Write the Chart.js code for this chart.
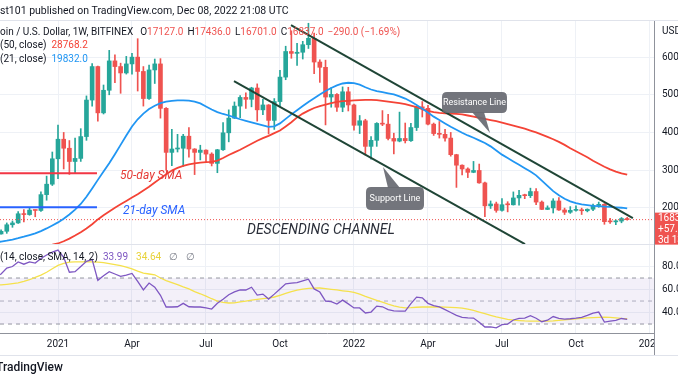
<!DOCTYPE html>
<html>
<head>
<meta charset="utf-8">
<script src="https://cdn.jsdelivr.net/npm/chart.js@4/dist/chart.umd.min.js"></script>
<style>
  html, body { margin:0; padding:0; background:#ffffff; width:678px; height:381px; overflow:hidden; }
  .panel { position:absolute; left:0; width:678px; }
  #wrapA { top:0; height:245px; }
  #wrapB { top:245px; height:136px; }
</style>
</head>
<body>
<div id="wrapA" class="panel"><canvas id="priceChart"></canvas></div>
<div id="wrapB" class="panel"><canvas id="rsiChart"></canvas></div>
<script>
// ---------- DATA (weekly candles, BTCUSD Bitfinex) ----------
const dates = [
  '2020-10-19','2020-10-26','2020-11-02','2020-11-09','2020-11-16','2020-11-23','2020-11-30','2020-12-07','2020-12-14','2020-12-21','2020-12-28',
  '2021-01-04','2021-01-11','2021-01-18','2021-01-25','2021-02-01','2021-02-08','2021-02-15','2021-02-22','2021-03-01','2021-03-08',
  '2021-03-15','2021-03-22','2021-03-29','2021-04-05','2021-04-12','2021-04-19','2021-04-26','2021-05-03','2021-05-10','2021-05-17',
  '2021-05-24','2021-05-31','2021-06-07','2021-06-14','2021-06-21','2021-06-28','2021-07-05','2021-07-12','2021-07-19','2021-07-26',
  '2021-08-02','2021-08-09','2021-08-16','2021-08-23','2021-08-30','2021-09-06','2021-09-13','2021-09-20','2021-09-27','2021-10-04',
  '2021-10-11','2021-10-18','2021-10-25','2021-11-01','2021-11-08','2021-11-15','2021-11-22','2021-11-29','2021-12-06','2021-12-13',
  '2021-12-20','2021-12-27',
  '2022-01-03','2022-01-10','2022-01-17','2022-01-24','2022-01-31','2022-02-07','2022-02-14','2022-02-21','2022-02-28','2022-03-07',
  '2022-03-14','2022-03-21','2022-03-28','2022-04-04','2022-04-11','2022-04-18','2022-04-25','2022-05-02','2022-05-09','2022-05-16',
  '2022-05-23','2022-05-30','2022-06-06','2022-06-13','2022-06-20','2022-06-27','2022-07-04','2022-07-11','2022-07-18','2022-07-25',
  '2022-08-01','2022-08-08','2022-08-15','2022-08-22','2022-08-29','2022-09-05','2022-09-12','2022-09-19','2022-09-26','2022-10-03',
  '2022-10-10','2022-10-17','2022-10-24','2022-10-31','2022-11-07','2022-11-14','2022-11-21','2022-11-28','2022-12-05'
];
const opens = [
  11500,13030,13740,15480,15960,18400,18180,19370,19270,23480,26250,
  33000,38200,35800,32280,33100,38900,48600,57500,45200,51200, 59000,57500,55800,58200,60000,56200,49000,56600,58200,46400,
  34700,35600,35800,39000,35600,34700,35300,34250,31780,35400, 39900,43800,47000,49300,48800,51800,46000,47300,43200,48200,
  54700,61500,61000,61300,63300,65000,58700,57300,49400,50100, 46700,50800,
  47300,41900,43100,36300,37900,42400,42200,38400,37700,38400, 37800,41300,46800,46400,42200,39700,39500,38500,34100,31300,
  30300,29400,29900,26600,20500,21000,19300,20800,20780,22600, 23300,23200,24300,21500,19550,19950,21800,19400,18800,19300,
  19400,19200,19600,20600,20900,16300,16250,16450,17127
];
const highs = [
  13350,14100,15960,16480,18950,19480,19900,19400,24200,28400,34800,
  41950,40000,37850,38500,41000,49700,58300,57600,52600,61800, 60600,58400,60200,61000,64900,57500,57900,59500,59600,46600,
  40800,39500,39500,41300,35700,36600,35400,34600,35500,42600, 46000,48100,49800,50500,52000,52900,48800,47400,49000,56500,
  62900,67000,63700,64200,69000,66400,59300,59200,51900,50300, 52100,52000,
  47500,44500,43500,38900,42600,45800,44800,39800,45400,42500, 42400,46900,48200,47200,42500,42900,40800,40000,34200,31400,
  30600,32300,31600,26800,21800,21500,22400,21600,24200,24600, 23600,25200,25100,21800,20500,22400,22700,19900,20300,20500,
  19900,19700,21000,21500,21100,17200,16800,17400,17436
];
const lows = [
  11400,12950,13200,14800,15800,16200,18000,17600,19000,22000,25900,
  27700,30300,28850,29200,32300,37900,47000,43000,44900,50000, 53200,50400,55500,55500,51000,47000,48800,53000,43800,30000,
  31200,34800,31000,33400,28800,32700,32100,31100,29300,35200, 37500,43700,43900,46400,46800,43000,44700,39600,40800,47000,
  54000,59700,57800,59500,62300,55600,53300,42000,46700,45600, 45500,45700,
  40600,39700,34000,32900,36300,41800,38000,34300,37500,37200, 37600,40500,44100,42000,39200,38500,37700,33700,25400,28700,
  28000,29300,26500,17600,19800,18800,19100,18900,20700,20700, 22400,22700,20800,19500,19500,18600,19300,18200,18500,19100,
  18200,18900,19200,20100,15600,15800,15500,16000,16701
];
const closes = [
  13030,13740,15480,15960,18400,18180,19370,19270,23480,26250,33000,
  38200,35800,32280,33100,38900,48600,57500,45200,51200,59000, 57500,55800,58200,60000,56200,49000,56600,58200,46400,34700,
  35600,35800,39000,35600,34700,35300,34250,31780,35400,39900, 43800,47000,49300,48800,51800,46000,47300,43200,48200,54700,
  61500,61000,61300,63300,65000,58700,57300,49400,50100,46700, 50800,47300,
  41900,43100,36300,37900,42400,42200,38400,37700,38400,37800, 41300,46800,46400,42200,39700,39500,38500,34100,31300,30300,
  29400,29900,26600,20500,21000,19300,20800,20780,22600,23300, 23200,24300,21500,19550,19950,21800,19400,18800,19300,19400,
  19200,19600,20600,20900,16300,16250,16450,17127,16837
];
const ma21 = [
  10800,11000,11250,11550,11900,12300,12750,13200,13800,14500,15300,
  16100,17100,18200,19500,21000,22900,25100,27400,29600,31800, 34200,36700,39200,41600,43500,45000,46200,47100,47800,48200,
  48400,48500,48500,48450,48200,47700,46900,46100,45400,44900, 44500,44000,43500,43100,42700,42300,41900,41500,41600,42400,
  43600,44800,45900,47000,48100,49100,50100,51000,51800,52500, 53000,53200,
  53100,52700,52000,51400,51000,50700,50400,50100,49600,49000, 48200,47300,46300,45300,44200,43300,42400,41500,40700,39900,
  39200,38600,37900,37200,36300,35200,34100,33200,32300,31400, 30500,29600,28600,27200,25800,24400,23300,22400,21700,21200,
  20900,20700,20500,20400,20300,20200,20100,20000,19832.0
];
const ma50 = [
  8800,8950,9100,9250,9400,9550,9700,9850,9950,10050,10200,
  10500,11100,11800,12600,13500,14500,15600,16900,18000,19000, 20000,20900,21800,22700,23600,24600,25600,26700,27800,28900,
  29900,30600,31100,31500,31800,32000,32100,32200,32500,33200, 34000,34700,35400,36200,37000,37800,38500,39100,39800,40500,
  41600,42700,44000,45000,45800,46500,47000,47400,47800,48100, 48300,48400,
  48500,48600,48650,48650,48600,48400,48200,48000,47800,47500, 47100,46700,46200,45700,45400,45200,45100,45000,44950,44800,
  44500,44200,43900,43600,43300,43000,42600,42200,41800,41400, 41000,40500,40000,39400,38800,38200,37500,36700,35800,35000,
  34200,33400,32500,31700,30900,30200,29600,29100,28768.2
];
const rsi = [
  71,73.5,78.7,80,84,82,84,83,87,90,92.5,
  94.3,88,75,75.5,80,84.5,86,68,72,75.5, 73.5,71.5,72.5,74,67,59.6,65.6,62,55,44.8,
  44.8,45,48,45,44.8,44.8,44,43,48,51.5, 55.5,58,59.6,59.6,62,55.2,56,51.7,56,60.5,
  65,65.6,66,67.5,69,60.5,57.8,50,49.5,47.4, 50.8,47.5,
  44,44,39.6,40.4,45.6,45,42.5,41.5,41.3,41.3, 47.8,53.4,52.8,48,46,44.9,42.5,40,37.5,35.8,
  35.3,35.2,31.5,27.4,27.5,26.7,29.5,30,33.5,35, 35.2,37.2,35,32,33.3,36.5,35,34.3,34.6,35.1,
  35.8,37.5,39.5,40.4,31.7,32.6,33.2,34.8,33.99
];
const rsiSma = [
  63.8,64,64.5,65.1,65.8,67,68.5,70.5,72.5,75,78,
  81,82.8,83.8,84,84,84,84,83.8,83.3,82.5, 81.7,80.8,79.5,78,76,74.3,73.5,72.8,70,67.8,
  66,64.2,62.3,60.6,58.2,56.3,54.2,52,50,48.8, 48.3,48.4,49.2,50,50.8,51.4,52,52.5,53.5,55,
  56.6,58.2,59.4,60.4,61,61.2,61.3,60.8,60.2,59.6, 58.9,58.3,
  57.6,56,54,52.3,50.6,49,47.3,45.8,44.6,44, 44.2,44.6,44.8,44.8,44.8,44.8,44.7,44.5,44.2,43.9,
  43,41.8,40.4,39,37.6,36.2,35.2,34,33.4,33, 32.7,32.6,32.6,32.6,32.6,32.8,33.2,33.6,34,34.5,
  35,35.4,35.6,35.8,36,35.8,35.3,34.9,34.64
];
const timeTickDates  = ['2021-01-04','2021-04-05','2021-07-05','2021-10-04','2022-01-03','2022-04-04','2022-07-04','2022-10-03','2023-01-02'];
const timeTickLabels = ['2021','Apr','Jul','Oct','2022','Apr','Jul','Oct','2023'];
const priceTicks = [20000,30000,40000,50000,60000];
const rsiTicks = [40,60,80];
const rsiLevels = [70,50,30];
// author's drawings, in (week index from 2021-01-04, price)
const channelUpper = [[40.93,68530],[101.0,17265]];
const channelLower = [[30.92,53650],[82.05,10360]];
const smaMark50 = [[-11,29150],[6.85,29150]];
const smaMark21 = [[-11,20100],[6.85,20100]];

// ---------- helpers ----------
const BASE = Date.parse('2021-01-04');
const wk = d => (Date.parse(d) - BASE) / 604800000;
const xs = dates.map(wk);
const timeTickX = timeTickDates.map(wk);
const X_MIN = -10.19, X_MAX = 104.71;
const UP = '#26a69a', DOWN = '#ef5350';
const candleColors = closes.map((c,k) => c >= opens[k] ? UP : DOWN);
const pts = arr => arr.map((v,k) => ({x: xs[k], y: v}));
const seg = arr => arr.map(p => ({x: p[0], y: p[1]}));
const level = v => [{x: X_MIN, y: v}, {x: X_MAX, y: v}];
const FONT = 'Roboto, "Noto Sans", sans-serif';
const DARK = '#131722', AXIS = '#8f929b', GRID = '#eef1f6', SEP = '#e0e3eb';
const n = closes.length - 1;

Chart.defaults.font.family = FONT;
Chart.defaults.font.size = 10;
Chart.defaults.color = DARK;

function seq(ctx, x, y, parts) {
  for (const p of parts) { ctx.fillStyle = p[1]; ctx.fillText(p[0], x, y); x += ctx.measureText(p[0]).width + (p[2] || 0); }
}
function rr(ctx, x, y, w, h, r) {
  ctx.beginPath(); ctx.moveTo(x + r, y); ctx.lineTo(x + w - r, y); ctx.quadraticCurveTo(x + w, y, x + w, y + r);
  ctx.lineTo(x + w, y + h - r); ctx.quadraticCurveTo(x + w, y + h, x + w - r, y + h); ctx.lineTo(x + r, y + h);
  ctx.quadraticCurveTo(x, y + h, x, y + h - r); ctx.lineTo(x, y + r); ctx.quadraticCurveTo(x, y, x + r, y); ctx.closePath();
}
const callouts = [
  {text: 'Resistance Line', box: [67.46, 50730, 78.88, 45150], tip: [75.9, 39840], base: [72.73, 74.84]},
  {text: 'Support Line',    box: [54.11, 25500, 64.30, 19390], tip: [57.1, 30810], base: [57.98, 60.08]}
];
const notes = [
  {text: '50-day SMA', at: [10.9, 28400], color: '#e53935', font: 'italic 12px '},
  {text: '21-day SMA', at: [11.4, 19100], color: '#2962ff', font: 'italic 12px '},
  {text: 'DESCENDING CHANNEL', at: [33.2, 14080], color: '#2a2e39', font: 'italic 14px '}
];
const fmt = v => v.toFixed(1);
const minus = s => s.replace('-', '\u2212');
const vAxisFit = s => { s.width = 24; s.paddingTop = 0; s.paddingBottom = 0; };

const overlayA = {
  id: 'overlayA',
  afterDraw(chart) {
    const {ctx, scales: {x, y}} = chart;
    const W = chart.width;
    ctx.save();
    ctx.strokeStyle = SEP; ctx.lineWidth = 1;
    ctx.beginPath(); ctx.moveTo(0, 20.5); ctx.lineTo(W, 20.5); ctx.stroke();
    ctx.beginPath(); ctx.moveTo(0, 244.5); ctx.lineTo(654, 244.5); ctx.stroke();
    ctx.textBaseline = 'middle'; ctx.textAlign = 'left';
    for (const a of notes) {
      ctx.font = a.font + FONT; ctx.fillStyle = a.color;
      ctx.fillText(a.text, x.getPixelForValue(a.at[0]), y.getPixelForValue(a.at[1]));
    }
    for (const c of callouts) {
      const bx0 = x.getPixelForValue(c.box[0]), by0 = y.getPixelForValue(c.box[1]);
      const bx1 = x.getPixelForValue(c.box[2]), by1 = y.getPixelForValue(c.box[3]);
      const tx = x.getPixelForValue(c.tip[0]), ty = y.getPixelForValue(c.tip[1]);
      const baseY = ty > by1 ? by1 - 1 : by0 + 1;
      ctx.fillStyle = 'rgba(104,106,114,0.93)';
      rr(ctx, bx0, by0, bx1 - bx0, by1 - by0, 5); ctx.fill();
      ctx.beginPath(); ctx.moveTo(x.getPixelForValue(c.base[0]), baseY); ctx.lineTo(tx, ty);
      ctx.lineTo(x.getPixelForValue(c.base[1]), baseY); ctx.closePath(); ctx.fill();
      ctx.fillStyle = '#ffffff'; ctx.font = '9px ' + FONT; ctx.textAlign = 'center';
      ctx.fillText(c.text, (bx0 + bx1) / 2, (by0 + by1) / 2 + 0.5);
      ctx.textAlign = 'left';
    }
    ctx.font = '10.5px ' + FONT; ctx.fillStyle = DARK;
    ctx.fillText('st101 published on TradingView.com, Dec 08, 2022 21:08 UTC', 0, 11);
    ctx.font = '10px ' + FONT;
    const chg = closes[n] - closes[n - 1];
    const pct = chg / closes[n - 1] * 100;
    seq(ctx, -ctx.measureText('Bitc').width, 32.5, [
      ['Bitcoin / U.S. Dollar, 1W, BITFINEX', DARK, 7],
      ['O', DARK], [fmt(opens[n]), DOWN, 4], ['H', DARK], [fmt(highs[n]), DOWN, 4],
      ['L', DARK], [fmt(lows[n]), DOWN, 4], ['C', DARK], [fmt(closes[n]), DOWN, 4],
      [minus(fmt(chg)) + ' (' + minus(pct.toFixed(2)) + '%)', DOWN]
    ]);
    seq(ctx, -ctx.measureText('MA ').width, 45.5, [['MA (50, close)', DARK, 5], [fmt(ma50[n]), '#f44336']]);
    seq(ctx, -ctx.measureText('MA ').width, 59, [['MA (21, close)', DARK, 5], [fmt(ma21[n]), '#2196f3']]);
    ctx.fillStyle = DARK; ctx.fillText('USD', 662, 31);
    const py = y.getPixelForValue(closes[n]);
    ctx.fillStyle = '#ef5350'; ctx.fillRect(655, py - 7, 23, 32);
    ctx.fillStyle = '#ffffff';
    ctx.fillText(fmt(closes[n]), 658, py - 1);
    ctx.fillText('+57.0', 658, py + 10);
    ctx.fillText('3d 13h', 658, py + 21);
    ctx.restore();
  }
};

new Chart(document.getElementById('priceChart'), {
  type: 'bar',
  data: { datasets: [
    {type: 'line', data: seg(channelUpper), borderColor: '#1f4536', borderWidth: 2, pointRadius: 0},
    {type: 'line', data: seg(channelLower), borderColor: '#1f4536', borderWidth: 2, pointRadius: 0},
    {type: 'line', data: seg(smaMark50), borderColor: '#f23645', borderWidth: 2, pointRadius: 0},
    {type: 'line', data: seg(smaMark21), borderColor: '#2962ff', borderWidth: 2, pointRadius: 0},
    {type: 'line', data: pts(ma21), borderColor: '#2196f3', borderWidth: 1.8, pointRadius: 0},
    {type: 'line', data: pts(ma50), borderColor: '#f44336', borderWidth: 1.8, pointRadius: 0},
    {type: 'line', data: level(closes[n]), borderColor: '#ef5350', borderWidth: 1, borderDash: [1, 2], pointRadius: 0},
    {type: 'bar', data: xs.map((xv, k) => ({x: xv, y: [opens[k], closes[k]]})), backgroundColor: candleColors,
      barThickness: 4, grouped: false, minBarLength: 1, borderWidth: 0},
    {type: 'bar', data: xs.map((xv, k) => ({x: xv, y: [lows[k], highs[k]]})), backgroundColor: candleColors,
      barThickness: 1, grouped: false, borderWidth: 0}
  ]},
  options: {
    responsive: true, maintainAspectRatio: false, devicePixelRatio: 1, animation: false, events: [],
    layout: {padding: {top: 21, left: 0, right: 0, bottom: 0}},
    plugins: {legend: {display: false}, tooltip: {enabled: false}},
    scales: {
      x: {type: 'linear', min: X_MIN, max: X_MAX, offset: false, position: 'bottom',
        afterBuildTicks: s => { s.ticks = timeTickX.map(v => ({value: v})); },
        afterFit: s => { s.height = 0; s.paddingLeft = 0; s.paddingRight = 0; },
        ticks: {display: false}, grid: {color: GRID, drawTicks: false, offset: false}, border: {display: false}},
      y: {type: 'linear', position: 'right', min: 10100, max: 69600,
        afterBuildTicks: s => { s.ticks = priceTicks.map(v => ({value: v})); },
        afterFit: vAxisFit,
        ticks: {padding: 8, color: DARK, autoSkip: false, callback: v => String(v)},
        grid: {color: GRID, drawTicks: false}, border: {display: true, color: AXIS}}
    }
  },
  plugins: [overlayA]
});

const overlayB = {
  id: 'overlayB',
  afterDraw(chart) {
    const ctx = chart.ctx; const W = chart.width; const ys = chart.scales.y;
    ctx.save();
    ctx.fillStyle = '#ffffff'; ctx.fillRect(655, 89, W - 655, 21);
    ctx.strokeStyle = AXIS; ctx.lineWidth = 1;
    ctx.beginPath(); ctx.moveTo(654.5, 88); ctx.lineTo(654.5, 110); ctx.stroke();
    ctx.strokeStyle = SEP;
    ctx.beginPath(); ctx.moveTo(0, 110.5); ctx.lineTo(W, 110.5); ctx.stroke();
    ctx.textBaseline = 'middle'; ctx.textAlign = 'left';
    ctx.font = '10px ' + FONT;
    ctx.fillStyle = DARK;
    for (const v of rsiTicks) ctx.fillText(v.toFixed(1), 662, ys.getPixelForValue(v));
    seq(ctx, -ctx.measureText('RSI ').width, 12, [
      ['RSI (14, close, SMA, 14, 2)', DARK, 5], [rsi[n].toFixed(2), '#7e57c2', 8],
      [rsiSma[n].toFixed(2), '#e8d23a', 8], ['\u2205', '#787b86', 8], ['\u2205', '#787b86']
    ]);
    ctx.font = '500 12px ' + FONT; ctx.fillStyle = DARK;
    ctx.fillText('TradingView', -4, 123);
    ctx.restore();
  }
};

new Chart(document.getElementById('rsiChart'), {
  type: 'line',
  data: { datasets: [
    {data: pts(rsi), borderColor: '#7e57c2', borderWidth: 1.3, pointRadius: 0},
    {data: pts(rsiSma), borderColor: '#f5e14c', borderWidth: 1.3, pointRadius: 0},
    {data: level(rsiLevels[0]), borderColor: '#9598a1', borderWidth: 1, borderDash: [4, 4], pointRadius: 0,
      fill: {target: '+1'}, backgroundColor: 'rgba(126,87,194,0.09)'},
    {data: level(rsiLevels[2]), borderColor: '#9598a1', borderWidth: 1, borderDash: [4, 4], pointRadius: 0, fill: false},
    {data: level(rsiLevels[1]), borderColor: '#b2b5be', borderWidth: 1, borderDash: [4, 4], pointRadius: 0, fill: false}
  ]},
  options: {
    responsive: true, maintainAspectRatio: false, devicePixelRatio: 1, animation: false, events: [],
    layout: {padding: {top: 0, left: 0, right: 0, bottom: 26}},
    plugins: {legend: {display: false}, tooltip: {enabled: false}},
    scales: {
      x: {type: 'linear', min: X_MIN, max: X_MAX, offset: false, position: 'bottom',
        afterBuildTicks: s => { s.ticks = timeTickX.map(v => ({value: v})); },
        afterFit: s => { s.height = 22; s.paddingLeft = 0; s.paddingRight = 0; },
        ticks: {padding: 5, maxRotation: 0, autoSkip: false, color: DARK, callback: (v, i) => timeTickLabels[i]},
        grid: {color: GRID, drawTicks: false}, border: {display: true, color: AXIS}},
      y: {type: 'linear', position: 'right', min: 22.2, max: 98.7,
        afterBuildTicks: s => { s.ticks = rsiTicks.map(v => ({value: v})); },
        afterFit: vAxisFit,
        ticks: {display: false},
        grid: {color: GRID, drawTicks: false}, border: {display: true, color: AXIS}}
    }
  },
  plugins: [overlayB]
});
</script>
</body>
</html>
